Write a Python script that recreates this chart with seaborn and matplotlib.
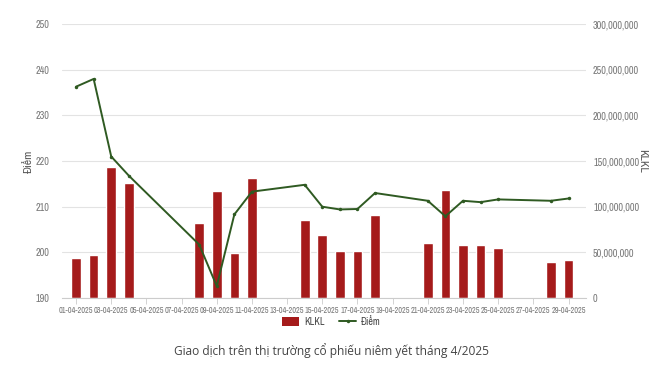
import matplotlib
matplotlib.use("Agg")
import matplotlib.pyplot as plt
from matplotlib import font_manager
import seaborn as sns
import pandas as pd
from matplotlib.patches import Patch
from matplotlib.lines import Line2D

all_dates = [f"{d:02d}-04-2025" for d in range(1, 30)]
trading_days = ["01-04-2025", "02-04-2025", "03-04-2025", "04-04-2025",
                "08-04-2025", "09-04-2025", "10-04-2025", "11-04-2025",
                "14-04-2025", "15-04-2025", "16-04-2025", "17-04-2025", "18-04-2025",
                "21-04-2025", "22-04-2025", "23-04-2025", "24-04-2025", "25-04-2025",
                "28-04-2025", "29-04-2025"]
klkl = [44e6, 47e6, 143e6, 126e6,
        82e6, 117e6, 49e6, 131e6,
        85e6, 69e6, 51.5e6, 52e6, 90.5e6,
        60.5e6, 118e6, 57.7e6, 58.4e6, 55e6,
        39.4e6, 42e6]
diem = [236.3, 238.0, 221.0, 216.8,
        201.7, 192.6, 208.3, 213.3,
        214.8, 210.0, 209.4, 209.5, 213.0,
        211.3, 207.9, 211.3, 211.0, 211.6,
        211.3, 211.8]
left_ticks = [190, 200, 210, 220, 230, 240, 250]
right_ticks = [0, 50e6, 100e6, 150e6, 200e6, 250e6, 300e6]

sns.set_theme(style="white")

# find a condensed / narrow font if one is installed
names = sorted({f.name for f in font_manager.fontManager.ttflist})
narrow = [n for n in names if ("Narrow" in n or "Condensed" in n or "Cond" in n)]
if narrow:
    tick_font = [narrow[0], "DejaVu Sans"]
    xsize, ysize, lsize = 5.9, 7.3, 8.5
else:
    tick_font = ["Roboto", "DejaVu Sans"]
    xsize, ysize, lsize = 4.6, 6.0, 7.5
plt.rcParams["font.family"] = tick_font

bar_color = "#a51b1b"
line_color = "#2f5a22"
tick_color = "#777777"

df = pd.DataFrame({"date": trading_days, "klkl": klkl, "diem": diem})
df["pos"] = [all_dates.index(d) for d in trading_days]

fig = plt.figure(figsize=(6.63, 3.72), dpi=100)
ax = fig.add_axes([0.0935, 0.199, 0.884 - 0.0935, 0.935 - 0.199])

sns.barplot(data=df, x="date", y="klkl", order=all_dates, color=bar_color,
            width=0.55, saturation=1, ax=ax)
ax2 = ax.twinx()
sns.lineplot(data=df, x="pos", y="diem", color=line_color, linewidth=1.4,
             marker="o", markersize=2.5, markeredgewidth=0, ax=ax2)

# bars axis -> right side
ax.set_ylim(0, 300e6)
ax.set_yticks(right_ticks)
ax.set_yticklabels([f"{int(v):,}" for v in right_ticks])
ax.yaxis.tick_right()
ax.yaxis.set_label_position("right")
ax.set_ylabel("KLKL", rotation=270, color="#555555",
              fontsize=lsize, fontweight="bold", va="center")
ax.yaxis.set_label_coords(1.107, 0.5)
ax.set_xlabel("")
ax.grid(axis="y", color="#e3e3e3", linewidth=0.8)
ax.set_axisbelow(True)

# line axis -> left side
ax2.set_ylim(190, 250)
ax2.set_yticks(left_ticks)
ax2.yaxis.tick_left()
ax2.yaxis.set_label_position("left")
ax2.set_ylabel("Điểm", rotation=90, color="#555555", fontsize=lsize,
               fontweight="bold", va="center")
ax2.yaxis.set_label_coords(-0.063, 0.5)
ax2.set_xlabel("")
ax2.grid(False)

ax.set_xlim(-0.8, 29.0)
ax.set_xticks(range(0, 29, 2))
ax.set_xticklabels([all_dates[i] for i in range(0, 29, 2)])

for a in (ax, ax2):
    for s in a.spines.values():
        s.set_visible(False)
ax.spines["bottom"].set_visible(True)
ax.spines["bottom"].set_color("#cccccc")
ax.spines["bottom"].set_linewidth(0.8)

ax.tick_params(axis="x", labelsize=xsize, colors=tick_color, length=4, width=0.6,
               color="#cccccc", pad=2, bottom=True)
ax.tick_params(axis="y", labelsize=ysize, colors=tick_color, length=0, pad=5,
               left=False, labelleft=False, right=False, labelright=True)
ax2.tick_params(axis="y", labelsize=ysize, colors=tick_color, length=0, pad=9,
                left=False, labelleft=True, right=False, labelright=False)

handles = [Patch(facecolor=bar_color, edgecolor="none", label="KLKL"),
           Line2D([0], [0], color=line_color, linewidth=1.4, marker="o",
                  markersize=2.5, markeredgewidth=0, label="Điểm")]
fig.legend(handles=handles, loc="center", bbox_to_anchor=(0.5, 0.135), ncol=2,
           frameon=False, fontsize=7.3, handlelength=1.6, handleheight=1.0,
           columnspacing=1.5, handletextpad=0.5, labelcolor="#444444")

fig.text(0.5, 0.058, "Giao dịch trên thị trường cổ phiếu niêm yết tháng 4/2025",
         ha="center", va="center", fontsize=8.6, color="#444444",
         family=["Open Sans", "DejaVu Sans"])

fig.savefig("out.png", dpi=100, facecolor="white")
